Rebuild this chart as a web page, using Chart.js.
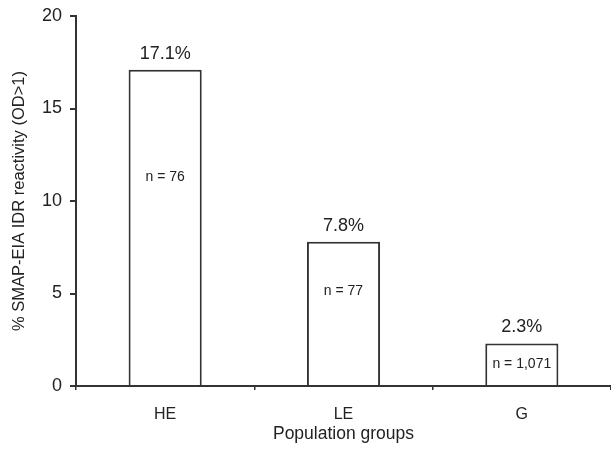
<!DOCTYPE html>
<html>
<head>
<meta charset="utf-8">
<script src="https://cdn.jsdelivr.net/npm/chart.js@4/dist/chart.umd.min.js"></script>
<style>
  html, body { margin: 0; padding: 0; background: #fff; }
  #wrap { width: 611px; height: 453px; }
</style>
</head>
<body>
<div id="wrap"><canvas id="myChart" width="611" height="453"></canvas></div>
<script>
// chart data
let groups = ["HE", "LE", "G"];
let reactivity = [17.1, 7.8, 2.3];
let sampleSizes = ["n = 76", "n = 77", "n = 1,071"];
let yTicks = [0, 5, 10, 15, 20];

let ink = "#333";

// draws the % above each bar and the n = ... inside it
let barText = {
    id: "barText",
    afterDatasetsDraw(chart, args, opts) {
        let ctx = chart.ctx;
        let meta = chart.getDatasetMeta(0);
        let y = chart.scales.y;
        ctx.save();
        ctx.fillStyle = "#222";
        ctx.textAlign = "center";
        ctx.textBaseline = "middle";
        meta.data.forEach(function(bar, i) {
            ctx.font = "18px 'Liberation Sans', Arial, sans-serif";
            ctx.fillText(reactivity[i].toFixed(1) + "%", bar.x, bar.y - 16);
            ctx.font = "14px 'Liberation Sans', Arial, sans-serif";
            ctx.fillText(sampleSizes[i], bar.x, y.getPixelForValue(reactivity[i] * opts.inside[i]));
        });
        ctx.restore();
    }
};

let myChart = document.getElementById("myChart").getContext("2d");

Chart.defaults.font.family = "'Liberation Sans', Arial, sans-serif";
Chart.defaults.color = "#222";

let popChart = new Chart(myChart, {
    type: "bar",
    data: {
        labels: groups,
        datasets: [{
            data: reactivity,
            backgroundColor: "#fff",
            borderColor: ink,
            borderWidth: 2,
            borderSkipped: "start",
            barPercentage: 0.41,
            categoryPercentage: 1
        }]
    },
    options: {
        responsive: false,
        animation: false,
        layout: { padding: { top: 16, right: 0, left: 0, bottom: 0 } },
        plugins: {
            legend: { display: false },
            tooltip: { enabled: false },
            barText: { inside: [0.66, 0.66, 0.52] }
        },
        scales: {
            y: {
                min: 0,
                max: 20,
                afterBuildTicks(axis) {
                    axis.ticks = yTicks.map(v => ({ value: v }));
                },
                afterFit(axis) {
                    axis.width = 76;
                    axis.paddingTop = 0;
                    axis.paddingBottom = 0;
                },
                border: { color: ink, width: 2 },
                grid: { drawOnChartArea: false, tickLength: 6, color: ink, lineWidth: 2 },
                ticks: { font: { size: 18 }, padding: 8, color: "#222" },
                title: {
                    display: true,
                    text: "% SMAP-EIA IDR reactivity (OD>1)",
                    font: { size: 16.5 },
                    color: "#222",
                    padding: { top: 10, bottom: 0 }
                }
            },
            x: {
                afterFit(axis) { axis.height = 67; },
                border: { color: ink, width: 2 },
                grid: { drawOnChartArea: false, tickLength: 4, color: ink, lineWidth: 1.5, offset: true },
                ticks: { font: { size: 16 }, padding: 15, color: "#222" },
                title: {
                    display: true,
                    text: "Population groups",
                    font: { size: 17.5 },
                    color: "#222",
                    padding: { top: 0, bottom: 8 }
                }
            }
        }
    },
    plugins: [barText]
});
</script>
</body>
</html>
